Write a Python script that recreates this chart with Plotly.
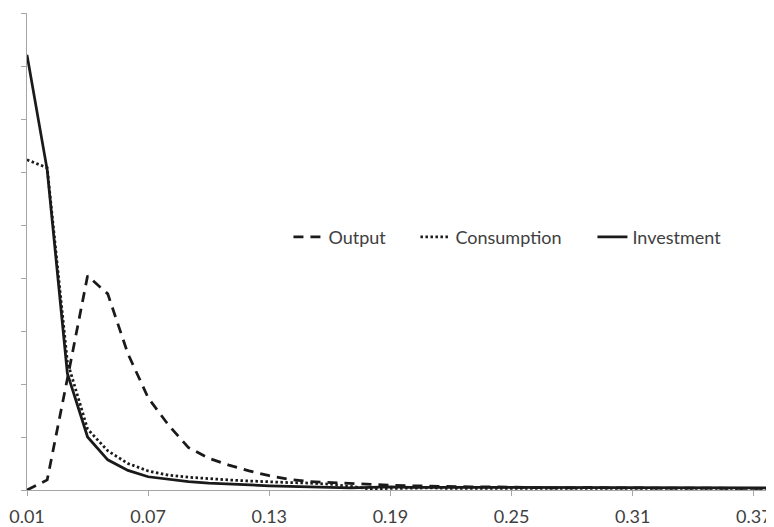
import plotly.graph_objects as go

x_vals = [0.01, 0.02, 0.03, 0.04, 0.05, 0.06, 0.07, 0.08, 0.09, 0.10,
          0.11, 0.12, 0.13, 0.14, 0.15, 0.16, 0.17, 0.18, 0.19, 0.20,
          0.21, 0.22, 0.23, 0.24, 0.25, 0.26, 0.27, 0.28, 0.29, 0.30,
          0.31, 0.32, 0.33, 0.34, 0.35, 0.36, 0.37, 0.38]

output = [0.0, 0.19, 2.1, 4.04, 3.7, 2.57, 1.74, 1.23, 0.8, 0.6,
          0.47, 0.36, 0.27, 0.2, 0.16, 0.14, 0.12, 0.1, 0.09, 0.08,
          0.07, 0.07, 0.06, 0.06, 0.05, 0.04, 0.04, 0.04, 0.05, 0.04,
          0.04, 0.04, 0.04, 0.04, 0.03, 0.04, 0.03, 0.03]

consumption = [6.23, 6.08, 2.42, 1.15, 0.74, 0.5, 0.36, 0.28, 0.24, 0.21,
               0.19, 0.17, 0.15, 0.14, 0.13, 0.11, 0.07, 0.02, 0.03, 0.04,
               0.04, 0.03, 0.03, 0.03, 0.03, 0.02, 0.03, 0.03, 0.03, 0.03,
               0.03, 0.03, 0.03, 0.03, 0.03, 0.03, 0.03, 0.03]

investment = [8.21, 6.04, 2.2, 1.0, 0.57, 0.37, 0.25, 0.2, 0.16, 0.13,
              0.11, 0.09, 0.08, 0.07, 0.06, 0.04, 0.04, 0.05, 0.06, 0.05,
              0.05, 0.04, 0.04, 0.05, 0.04, 0.04, 0.04, 0.04, 0.04, 0.04,
              0.04, 0.04, 0.04, 0.04, 0.04, 0.04, 0.04, 0.04]

tick_vals = [0.01, 0.07, 0.13, 0.19, 0.25, 0.31, 0.37]
tick_text = ["0.01", "0.07", "0.13", "0.19", "0.25", "0.31", "0.37"]

FONT = "Lato"
LINE = "#1a1a1a"
AXIS = "#a6a6a6"

fig = go.Figure()
fig.add_trace(go.Scatter(x=x_vals, y=output, mode="lines", name="Output",
                         line=dict(color=LINE, width=2.75, dash="10px,7px"),
                         legendwidth=82))
fig.add_trace(go.Scatter(x=x_vals, y=consumption, mode="lines", name="Consumption",
                         line=dict(color=LINE, width=2.75, dash="2.5px,2.5px"),
                         legendwidth=132))
fig.add_trace(go.Scatter(x=x_vals, y=investment, mode="lines", name="Investment",
                         line=dict(color=LINE, width=2.75)))

# the page body has an 8px default margin, so the figure is sized to fill the
# remaining 766x519 area of the 774x527 window
fig.update_layout(
    width=766, height=519,
    margin=dict(l=19, r=0, t=5, b=29),
    paper_bgcolor="white", plot_bgcolor="white",
    font=dict(family=FONT, size=18, color="#404040"),
    showlegend=True,
    legend=dict(orientation="h", x=0.350, xanchor="left", y=0.530, yanchor="middle",
                font=dict(family=FONT, size=18, color="#404040"),
                bgcolor="rgba(0,0,0,0)", itemwidth=30),
    xaxis=dict(range=[0.01, 0.38], tickvals=tick_vals, ticktext=tick_text,
               showgrid=False, zeroline=False, showline=True, linecolor=AXIS,
               linewidth=1, ticks="outside", ticklen=5, tickcolor=AXIS,
               tickfont=dict(family=FONT, size=18, color="#404040"),
               ticklabelstandoff=5),
    yaxis=dict(range=[0, 9], dtick=1, showticklabels=False, showgrid=False,
               zeroline=False, showline=True, linecolor=AXIS, linewidth=1,
               ticks="outside", ticklen=5, tickcolor=AXIS),
)

fig.write_html("out.html")
